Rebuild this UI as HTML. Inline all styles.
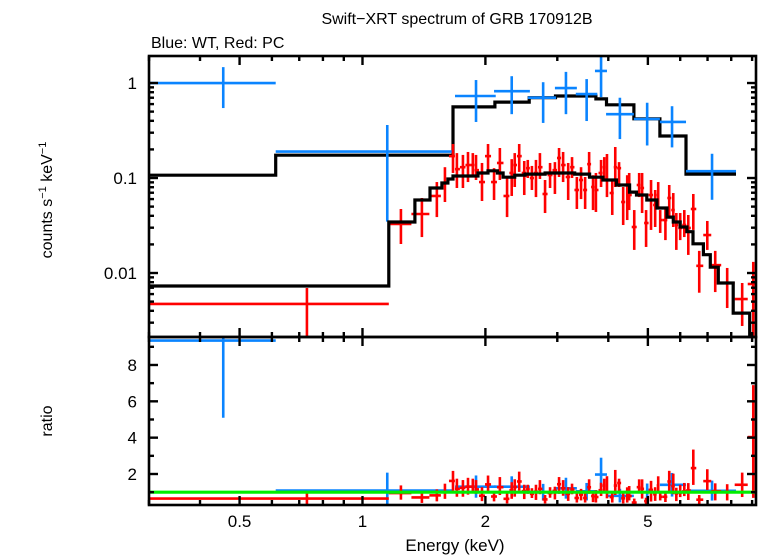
<!DOCTYPE html>
<html><head><meta charset="utf-8"><style>
html,body{margin:0;padding:0;background:#fff;}
svg{display:block;font-family:"Liberation Sans",sans-serif;}
</style></head><body>
<svg id="chart" width="758" height="556" viewBox="0 0 758 556" xmlns="http://www.w3.org/2000/svg">
<defs>
<clipPath id="cu"><rect x="149" y="56" width="607" height="281"/></clipPath>
<clipPath id="cl"><rect x="149" y="337" width="607" height="168"/></clipPath>
</defs>
<text x="457" y="24" font-size="16" text-anchor="middle">Swift−XRT spectrum of GRB 170912B</text>
<text x="151" y="48" font-size="16">Blue: WT, Red: PC</text>
<text transform="translate(52,200) rotate(-90)" font-size="16" text-anchor="middle">counts s<tspan font-size="11" dy="-6">−1</tspan><tspan dy="6"> keV</tspan><tspan font-size="11" dy="-6">−1</tspan></text>
<text transform="translate(52,421) rotate(-90)" font-size="16" text-anchor="middle">ratio</text>
<text x="455" y="551" font-size="17" text-anchor="middle">Energy (keV)</text>
<g id="upper" clip-path="url(#cu)"></g>
<g id="lower" clip-path="url(#cl)"></g>
<g id="axes"></g>
</svg>
<script>
// ---- data ----
const blueLo = [0.30,0.613,1.685,2.10,2.54,2.96,3.33,3.71,3.95,4.62,5.35,6.20];
const blueHi = [0.613,1.666,2.12,2.57,2.98,3.35,3.76,3.97,4.62,5.35,6.20,8.22];
const blueE  = [0.456,1.15,1.897,2.32,2.77,3.15,3.54,3.84,4.27,4.98,5.73,7.18];
const blueV  = [1.0,0.19,0.73,0.82,0.70,0.886,0.766,1.34,0.47,0.418,0.389,0.118];
const blueVhi= [1.47,0.361,1.075,1.18,1.02,1.31,1.10,1.97,0.70,0.62,0.57,0.18];
const blueVlo= [0.545,0.0347,0.389,0.47,0.38,0.47,0.398,0.71,0.257,0.22,0.21,0.059];
const blueModelEdges = [0.3,0.613,1.666,2.11,2.56,2.97,3.34,3.73,3.96,4.62,5.35,6.20,8.22];
const blueModelV = [0.107,0.174,0.56,0.63,0.70,0.73,0.73,0.68,0.59,0.42,0.277,0.110];

const redE = [0.731,1.242,1.398,1.521,1.592,1.666,1.703,1.762,1.813,1.863,1.897,1.962,2.03,2.10,2.17,2.26,2.32,2.36,2.42,2.49,2.54,2.60,2.66,2.72,2.80,2.88,2.96,3.03,3.10,3.19,3.26,3.35,3.43,3.51,3.59,3.67,3.73,3.84,3.91,3.97,4.09,4.16,4.25,4.35,4.45,4.50,4.63,4.76,4.84,4.95,5.09,5.21,5.30,5.36,5.52,5.64,5.77,5.87,6.00,6.14,6.28,6.46,6.68,6.99,7.31,7.82,8.51,9.06];
const redV = [0.00472,0.0328,0.0418,0.0647,0.0886,0.170,0.124,0.130,0.137,0.137,0.121,0.0907,0.170,0.0907,0.144,0.0647,0.113,0.137,0.170,0.113,0.127,0.100,0.113,0.130,0.0679,0.1076,0.121,0.1625,0.137,0.1025,0.130,0.0748,0.0953,0.0748,0.140,0.0804,0.0748,0.113,0.130,0.0953,0.0695,0.130,0.127,0.0559,0.0844,0.0662,0.0305,0.0844,0.0785,0.0336,0.0662,0.052,0.0662,0.0361,0.0361,0.0616,0.046,0.032,0.0298,0.032,0.0298,0.0472,0.0119,0.0251,0.0121,0.00785,0.00532,0.00766];
const redVhi = [0.00695,0.0472,0.0616,0.0907,0.130,0.228,0.183,0.175,0.188,0.183,0.175,0.144,0.228,0.127,0.207,0.1025,0.158,0.183,0.228,0.151,0.155,0.134,0.155,0.183,0.0953,0.144,0.147,0.207,0.188,0.144,0.166,0.1025,0.130,0.1025,0.188,0.107,0.113,0.155,0.166,0.179,0.0953,0.212,0.147,0.0804,0.107,0.113,0.046,0.113,0.113,0.046,0.0953,0.0748,0.0907,0.046,0.0483,0.0844,0.0695,0.0428,0.0428,0.046,0.0408,0.0679,0.0171,0.0353,0.0171,0.0113,0.00785,0.0131];
const redVlo = [0.0015,0.0202,0.0239,0.0388,0.0559,0.113,0.0785,0.0785,0.0907,0.1025,0.0953,0.0573,0.121,0.0587,0.0953,0.0388,0.0647,0.0804,0.116,0.0662,0.100,0.0748,0.063,0.0977,0.0428,0.0785,0.0679,0.1025,0.0907,0.0587,0.100,0.0472,0.060,0.0472,0.100,0.046,0.0439,0.0804,0.0953,0.063,0.0408,0.0804,0.0804,0.032,0.0361,0.046,0.0175,0.063,0.0428,0.0188,0.0284,0.0305,0.0495,0.0264,0.0222,0.0388,0.0305,0.0175,0.0222,0.0239,0.0155,0.0284,0.0062,0.0175,0.0063,0.00428,0.00277,0.0013];
const redModelEdges = [0.3,1.16,1.344,1.463,1.565,1.619,1.666,1.918,2.03,2.14,2.21,2.36,2.50,2.80,3.31,3.60,3.88,4.19,4.51,4.69,4.97,5.26,5.57,5.77,6.00,6.23,6.45,6.84,7.11,7.44,8.09,8.88,9.2];
const redModelV = [0.0073,0.0344,0.0587,0.0785,0.0886,0.0977,0.105,0.113,0.119,0.113,0.102,0.107,0.110,0.113,0.110,0.102,0.0953,0.0844,0.071,0.0662,0.0587,0.0484,0.0388,0.0344,0.0305,0.0272,0.0203,0.0156,0.0115,0.00785,0.00378,0.0019];

const xTickMajor = [0.5,1,2,5];
const xTickLabels = ["0.5","1","2","5"];
const xTickMinor = [0.3,0.4,0.6,0.7,0.8,0.9,3,4,6,7,8,9];
const yTickMajor = [0.01,0.1,1];
const yTickLabels = ["0.01","0.1","1"];
const ratioTicks = [2,4,6,8];
const ratioMinor = [1,3,5,7,9];

// ---- axes ----
const L=149,R=756,T=56,M=337,B=505;
const xmin=0.3,xmax=9.2,ymin=0.00212,ymax=1.925,rmin=0.294,rmax=9.54;
const X=e=>L+(Math.log10(e)-Math.log10(xmin))/(Math.log10(xmax)-Math.log10(xmin))*(R-L);
const Y=v=>M-(Math.log10(Math.max(v,1e-6))-Math.log10(ymin))/(Math.log10(ymax)-Math.log10(ymin))*(M-T);
const YR=r=>B-(r-rmin)/(rmax-rmin)*(B-M);
const NS="http://www.w3.org/2000/svg";
function mk(parent,tag,attrs){const el=document.createElementNS(NS,tag);for(const k in attrs)el.setAttribute(k,attrs[k]);parent.appendChild(el);return el;}
const up=document.getElementById('upper'),lo=document.getElementById('lower'),ax=document.getElementById('axes');
const BLUE='#0a84ff',RED='#ff0000';
const SW=2.6;

function modelAt(edges,vals,e){for(let i=0;i<vals.length;i++){if(e>=edges[i]&&e<edges[i+1])return vals[i];}return vals[vals.length-1];}
function stepPath(edges,vals,yf){let d='';for(let i=0;i<vals.length;i++){const y=yf(vals[i]);d+=(i===0?'M':'L')+X(edges[i]).toFixed(1)+','+y.toFixed(1)+'L'+X(edges[i+1]).toFixed(1)+','+y.toFixed(1);}return d;}

let p=mk(up,'path',{d:stepPath(blueModelEdges,blueModelV,Y),fill:'none',stroke:'#000','stroke-width':3.2});



function cross(g,x1,x2,xc,y,y1,y2,col){
  mk(g,'line',{x1:x1,x2:x2,y1:y,y2:y,stroke:col,'stroke-width':SW});
  mk(g,'line',{x1:xc,x2:xc,y1:y1,y2:y2,stroke:col,'stroke-width':SW});
}
const redLo=[],redHi=[];
for(let i=0;i<redE.length;i++){
  redLo.push(i===0?0.3:(i===1?1.16:Math.sqrt(redE[i-1]*redE[i])));
  redHi.push(i===0?1.16:(i===redE.length-1?9.2:Math.sqrt(redE[i]*redE[i+1])));
}
for(let i=0;i<blueE.length;i++){
  const g=mk(up,'g',{});
  
  
  cross(g,X(blueLo[i]),X(blueHi[i]),X(blueE[i]),Y(blueV[i]),Y(blueVhi[i]),Y(blueVlo[i]),BLUE);
  const m=modelAt(blueModelEdges,blueModelV,blueE[i]);
  const g2=mk(lo,'g',{});
  
  
  cross(g2,X(blueLo[i]),X(blueHi[i]),X(blueE[i]),YR(blueV[i]/m),YR(blueVhi[i]/m),YR(blueVlo[i]/m),BLUE);
}
for(let i=0;i<redE.length;i++){
  const g=mk(up,'g',{});
  
  
  cross(g,X(redLo[i]),X(redHi[i]),X(redE[i]),Y(redV[i]),Y(redVhi[i]),Y(redVlo[i]),RED);
  const m=modelAt(redModelEdges,redModelV,redE[i]);
  const g2=mk(lo,'g',{});
  
  
  cross(g2,X(redLo[i]),X(redHi[i]),X(redE[i]),YR(redV[i]/m),YR(redVhi[i]/m),YR(redVlo[i]/m),RED);
}
p=mk(up,'path',{d:stepPath(redModelEdges,redModelV,Y),fill:'none',stroke:'#000','stroke-width':3.2});


p=mk(lo,'line',{x1:L,x2:R,y1:YR(1),y2:YR(1),stroke:'#00ee00','stroke-width':3.2});



for(const [y1,y2,n] of [[T,M,'upper-frame'],[M,B,'lower-frame']]){
  const r=mk(ax,'rect',{x:L,y:y1,width:R-L,height:y2-y1,fill:'none',stroke:'#000','stroke-width':2.6});
  
  
}
function xt(e,len){for(const [y1,y2] of [[T,M],[M,B]]){const x=X(e);
  mk(ax,'line',{x1:x,x2:x,y1:y1,y2:y1+len,stroke:'#000','stroke-width':2.4});
  mk(ax,'line',{x1:x,x2:x,y1:y2,y2:y2-len,stroke:'#000','stroke-width':2.4});}}
xTickMajor.forEach((e,i)=>{xt(e,9);
  const t=mk(ax,'text',{x:X(e),y:527,'font-size':17,'text-anchor':'middle'});t.textContent=xTickLabels[i];
  
  });
xTickMinor.forEach(e=>xt(e,5));
yTickMajor.forEach((v,i)=>{const y=Y(v);
  mk(ax,'line',{x1:L,x2:L+9,y1:y,y2:y,stroke:'#000','stroke-width':2.4});
  mk(ax,'line',{x1:R,x2:R-9,y1:y,y2:y,stroke:'#000','stroke-width':2.4});
  const t=mk(ax,'text',{x:L-12,y:y+6,'font-size':17,'text-anchor':'end'});t.textContent=yTickLabels[i];
  
  });
for(const d of [0.001,0.01,0.1,1]){for(let k=2;k<=9;k++){const v=d*k;if(v<ymin||v>ymax)continue;const y=Y(v);
  mk(ax,'line',{x1:L,x2:L+5,y1:y,y2:y,stroke:'#000','stroke-width':2.4});
  mk(ax,'line',{x1:R,x2:R-5,y1:y,y2:y,stroke:'#000','stroke-width':2.4});}}
ratioTicks.forEach(r=>{const y=YR(r);
  mk(ax,'line',{x1:L,x2:L+9,y1:y,y2:y,stroke:'#000','stroke-width':2.4});
  mk(ax,'line',{x1:R,x2:R-9,y1:y,y2:y,stroke:'#000','stroke-width':2.4});
  const t=mk(ax,'text',{x:L-12,y:y+6,'font-size':17,'text-anchor':'end'});t.textContent=String(r);
  
  });
ratioMinor.forEach(r=>{const y=YR(r);
  mk(ax,'line',{x1:L,x2:L+5,y1:y,y2:y,stroke:'#000','stroke-width':2.4});
  mk(ax,'line',{x1:R,x2:R-5,y1:y,y2:y,stroke:'#000','stroke-width':2.4});});
</script>
</body></html>
